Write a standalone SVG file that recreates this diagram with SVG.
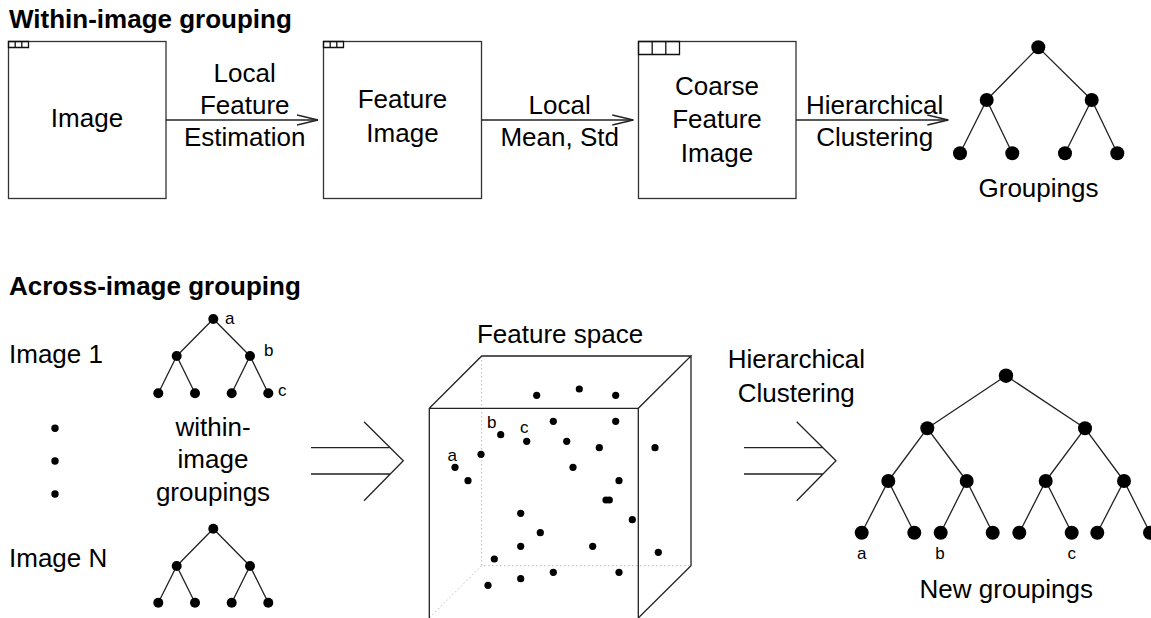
<svg xmlns="http://www.w3.org/2000/svg" width="1151" height="618" viewBox="0 0 1151 618">
<style>
text{font-family:"Liberation Sans",Arial,Helvetica,sans-serif;fill:#000}
.t{font-size:26px;font-weight:bold}
.b{font-size:26px;text-anchor:middle}
.l{font-size:26px}
.s{font-size:17px}
.sm{font-size:17px;text-anchor:middle}
.box{fill:#fff;stroke:#333;stroke-width:1.3}
.sq{fill:none;stroke:#111;stroke-width:1.3}
.ln{fill:none;stroke:#222;stroke-width:1.3}
.dot{fill:#000}
.hid{fill:none;stroke:#bbb;stroke-width:1;stroke-dasharray:1.5 2.5}
</style>
<defs>
<marker id="ah" markerWidth="24" markerHeight="14" refX="21" refY="6" orient="auto" markerUnits="userSpaceOnUse">
<path d="M0,1 L21,6 L0,11" fill="none" stroke="#222" stroke-width="1.3"/>
</marker>
</defs>
<rect width="1151" height="618" fill="#fff"/>

<text class="t" x="9" y="27.5">Within-image grouping</text>
<text class="t" x="9" y="294.5">Across-image grouping</text>

<g id="image">
<rect class="box" x="8.5" y="41.5" width="157.5" height="157"/>
<path class="sq" d="M8.5,41.5h20v6h-20z M15.2,41.5v6 M21.8,41.5v6"/>
<text class="b" x="87" y="127">Image</text>
</g>

<g id="feature-image">
<rect class="box" x="323.5" y="41.5" width="158" height="157"/>
<path class="sq" d="M323.5,41.5h20v6h-20z M330.2,41.5v6 M336.8,41.5v6"/>
<text class="b" x="402.5" y="107.5">Feature</text>
<text class="b" x="402.5" y="141.5">Image</text>
</g>

<g id="coarse-feature-image">
<rect class="box" x="638.5" y="41.5" width="157.5" height="157"/>
<path class="sq" d="M638.5,41.5h41v13h-41z M652.2,41.5v13 M665.8,41.5v13"/>
<text class="b" x="717" y="94.5">Coarse</text>
<text class="b" x="717" y="128">Feature</text>
<text class="b" x="717" y="161.5">Image</text>
</g>

<g id="groupings">
<path class="ln" d="M986.7,100L1038.3,47.3L1091.7,100 M960,153.3L986.7,100L1012.3,153.3 M1065,153.3L1091.7,100L1117.3,153.3"/>
<circle class="dot" cx="1038.3" cy="47.3" r="7"/>
<circle class="dot" cx="986.7" cy="100" r="7"/>
<circle class="dot" cx="1091.7" cy="100" r="7"/>
<circle class="dot" cx="960" cy="153.3" r="7"/>
<circle class="dot" cx="1012.3" cy="153.3" r="7"/>
<circle class="dot" cx="1065" cy="153.3" r="7"/>
<circle class="dot" cx="1117.3" cy="153.3" r="7"/>
<text class="b" x="1038.5" y="196.5">Groupings</text>
</g>

<g id="connectors">
<line class="ln" x1="166" y1="120" x2="318" y2="120" marker-end="url(#ah)"/>
<line class="ln" x1="481.5" y1="120" x2="633.3" y2="120" marker-end="url(#ah)"/>
<line class="ln" x1="796" y1="120" x2="948.3" y2="120" marker-end="url(#ah)"/>
<path class="ln" d="M311,447.7H390.2 M311,474H390.2 M364,421.7L403.3,460.7L364,500.7"/>
<path class="ln" d="M744,447.7H822.9 M744,474H822.9 M796.7,421.7L836,460.7L796.7,500.7"/>
</g>

<g id="connector-labels">
<text class="b" x="244.7" y="81.7">Local</text>
<text class="b" x="244.7" y="114.3">Feature</text>
<text class="b" x="244.7" y="146">Estimation</text>
<text class="b" x="559.7" y="114.3">Local</text>
<text class="b" x="559.7" y="146">Mean, Std</text>
<text class="b" x="874.7" y="114.3">Hierarchical</text>
<text class="b" x="874.7" y="146">Clustering</text>
<text class="b" x="796.3" y="368.3">Hierarchical</text>
<text class="b" x="796.3" y="401.7">Clustering</text>
</g>

<g id="image-1">
<text class="l" x="9" y="362.7">Image 1</text>
<path class="ln" d="M176.7,356L213.3,319L250,356 M158.3,393.3L176.7,356L195,393.3 M231.7,393.3L250,356L268.3,393.3"/>
<circle class="dot" cx="213.3" cy="319" r="5"/>
<circle class="dot" cx="176.7" cy="356" r="5"/>
<circle class="dot" cx="250" cy="356" r="5"/>
<circle class="dot" cx="158.3" cy="393.3" r="5"/>
<circle class="dot" cx="195" cy="393.3" r="5"/>
<circle class="dot" cx="231.7" cy="393.3" r="5"/>
<circle class="dot" cx="268.3" cy="393.3" r="5"/>
<text class="s" x="225" y="324">a</text>
<text class="s" x="264" y="356">b</text>
<text class="s" x="278" y="396">c</text>
</g>

<g id="ellipsis">
<circle class="dot" cx="55" cy="428.3" r="3.7"/>
<circle class="dot" cx="55" cy="461" r="3.7"/>
<circle class="dot" cx="55" cy="494" r="3.7"/>
<text class="b" x="213" y="435.5">within-</text>
<text class="b" x="213" y="468">image</text>
<text class="b" x="213" y="500.5">groupings</text>
</g>

<g id="image-n">
<text class="l" x="9" y="566.7">Image N</text>
<path class="ln" d="M176.7,566L213.3,528.7L250,566 M158.3,602.7L176.7,566L195,602.7 M231.7,602.7L250,566L268.3,602.7"/>
<circle class="dot" cx="213.3" cy="528.7" r="5"/>
<circle class="dot" cx="176.7" cy="566" r="5"/>
<circle class="dot" cx="250" cy="566" r="5"/>
<circle class="dot" cx="158.3" cy="602.7" r="5"/>
<circle class="dot" cx="195" cy="602.7" r="5"/>
<circle class="dot" cx="231.7" cy="602.7" r="5"/>
<circle class="dot" cx="268.3" cy="602.7" r="5"/>
</g>

<g id="feature-space">
<text class="b" x="560" y="342.7">Feature space</text>
<path class="hid" d="M481.7,356V565.7H691 M481.7,565.7L429.3,618"/>
<path class="ln" d="M429.3,620V408.3L481.7,356H691L638.3,408.3H429.3 M638.3,408.3V620 M691,356V565.7L638.3,618"/>
<g class="dot">
<circle cx="536.7" cy="395.3" r="3.6"/>
<circle cx="579.3" cy="389" r="3.6"/>
<circle cx="615.7" cy="395.3" r="3.6"/>
<circle cx="553.3" cy="421.3" r="3.6"/>
<circle cx="615.7" cy="421.3" r="3.6"/>
<circle cx="500.7" cy="434.7" r="3.6"/>
<circle cx="526.7" cy="441.3" r="3.6"/>
<circle cx="566.7" cy="441.3" r="3.6"/>
<circle cx="599.3" cy="447.7" r="3.6"/>
<circle cx="655" cy="447.7" r="3.6"/>
<circle cx="481" cy="454.3" r="3.6"/>
<circle cx="455" cy="467.3" r="3.6"/>
<circle cx="468" cy="480.7" r="3.6"/>
<circle cx="573" cy="467.3" r="3.6"/>
<circle cx="619" cy="480.7" r="3.6"/>
<circle cx="606" cy="500" r="3.6"/>
<circle cx="609.3" cy="500" r="3.6"/>
<circle cx="632.3" cy="519.7" r="3.6"/>
<circle cx="520.7" cy="513.3" r="3.6"/>
<circle cx="540.3" cy="532.7" r="3.6"/>
<circle cx="520.7" cy="546.3" r="3.6"/>
<circle cx="592.7" cy="546.3" r="3.6"/>
<circle cx="658.3" cy="552.3" r="3.6"/>
<circle cx="494.3" cy="559" r="3.6"/>
<circle cx="520.7" cy="578.7" r="3.6"/>
<circle cx="553.3" cy="572.3" r="3.6"/>
<circle cx="619" cy="572.3" r="3.6"/>
<circle cx="488" cy="585.3" r="3.6"/>
</g>
<text class="s" x="447.5" y="460.7">a</text>
<text class="s" x="487" y="428.3">b</text>
<text class="s" x="520" y="433.3">c</text>
</g>

<g id="new-groupings">
<path class="ln" d="M927.3,428.3L1006,375.7L1085,428.3 M888.3,481L927.3,428.3L966.7,481 M1045.7,481L1085,428.3L1124,481 M861.7,532.7L888.3,481L914.3,532.7 M940.7,532.7L966.7,481L992.7,532.7 M1019.3,532.7L1045.7,481L1071.7,532.7 M1097.3,532.7L1124,481L1150,532.7"/>
<g class="dot">
<circle cx="1006" cy="375.7" r="7.2"/>
<circle cx="927.3" cy="428.3" r="7"/>
<circle cx="1085" cy="428.3" r="7"/>
<circle cx="888.3" cy="481" r="7"/>
<circle cx="966.7" cy="481" r="7"/>
<circle cx="1045.7" cy="481" r="7"/>
<circle cx="1124" cy="481" r="7"/>
<circle cx="861.7" cy="532.7" r="7"/>
<circle cx="914.3" cy="532.7" r="7"/>
<circle cx="940.7" cy="532.7" r="7"/>
<circle cx="992.7" cy="532.7" r="7"/>
<circle cx="1019.3" cy="532.7" r="7"/>
<circle cx="1071.7" cy="532.7" r="7"/>
<circle cx="1097.3" cy="532.7" r="7"/>
<circle cx="1150" cy="532.7" r="7"/>
</g>
<text class="sm" x="861.7" y="559">a</text>
<text class="sm" x="940" y="559">b</text>
<text class="sm" x="1071.7" y="559">c</text>
<text class="b" x="1006.3" y="598.3">New groupings</text>
</g>
</svg>
